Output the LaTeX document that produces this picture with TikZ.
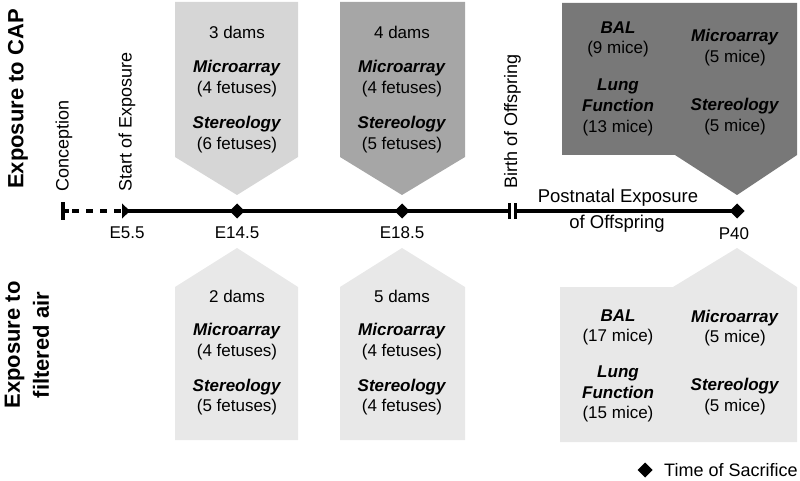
\documentclass[tikz,border=0pt]{standalone}
\usepackage{fontspec}
\setmainfont{Liberation Sans}
\definecolor{gA}{gray}{0.84}
\definecolor{gB}{gray}{0.65}
\definecolor{gC}{gray}{0.47}
\definecolor{gD}{gray}{0.91}
\begin{document}
\begin{tikzpicture}[x=1pt,y=-1pt,
  txt/.style={inner sep=0pt,align=center,font=\fontsize{17}{20.8}\selectfont},
  vlab/.style={inner sep=0pt,anchor=west,rotate=90,font=\fontsize{18}{21}\selectfont},
  biglab/.style={inner sep=0pt,align=center,rotate=90,font=\fontsize{22}{29}\selectfont\bfseries},
  tl/.style={line width=3.4pt,black},
  sac/.style={fill=black}
]
\useasboundingbox (0,0) rectangle (800,481);
% ---- boxes ----
\fill[gA] (175,2) -- (298,2) -- (298,157) -- (237,195) -- (175,157) -- cycle;
\fill[gB] (340,2) -- (465,2) -- (465,157) -- (402,195) -- (340,157) -- cycle;
\fill[gC] (562,3) -- (797,3) -- (797,155) -- (737,195) -- (675,155) -- (562,155) -- cycle;
\fill[gD] (175,440) -- (175,287) -- (237,248) -- (298,287) -- (298,440) -- cycle;
\fill[gD] (340,440) -- (340,287) -- (402,248) -- (465,287) -- (465,440) -- cycle;
\fill[gD] (560,442) -- (560,287) -- (673,287) -- (737,248) -- (797,287) -- (797,442) -- cycle;
% ---- box texts ----
\node[txt] (d1) at (237,32) {3 dams};
\node[txt] (m1) at (237,78.5) {\textbf{\textit{Microarray}}\\(4 fetuses)};
\node[txt] (s1) at (237,134.5) {\textbf{\textit{Stereology}}\\(6 fetuses)};
\node[txt] (d2) at (402,32) {4 dams};
\node[txt] (m2) at (402,78.5) {\textbf{\textit{Microarray}}\\(4 fetuses)};
\node[txt] (s2) at (402,134.5) {\textbf{\textit{Stereology}}\\(5 fetuses)};
\node[txt] (b3) at (618,39.5) {\textbf{\textit{BAL}}\\(9 mice)};
\node[txt] (l3) at (618,107.5) {\textbf{\textit{Lung}}\\\textbf{\textit{Function}}\\(13 mice)};
\node[txt] (m3) at (735,48) {\textbf{\textit{Microarray}}\\(5 mice)};
\node[txt] (s3) at (735,117) {\textbf{\textit{Stereology}}\\(5 mice)};
\node[txt] (d4) at (237,296) {2 dams};
\node[txt] (m4) at (237,341.5) {\textbf{\textit{Microarray}}\\(4 fetuses)};
\node[txt] (s4) at (237,397) {\textbf{\textit{Stereology}}\\(5 fetuses)};
\node[txt] (d5) at (402,296) {5 dams};
\node[txt] (m5) at (402,341.5) {\textbf{\textit{Microarray}}\\(4 fetuses)};
\node[txt] (s5) at (402,397) {\textbf{\textit{Stereology}}\\(4 fetuses)};
\node[txt] (b6) at (618,327.5) {\textbf{\textit{BAL}}\\(17 mice)};
\node[txt] (l6) at (618,394) {\textbf{\textit{Lung}}\\\textbf{\textit{Function}}\\(15 mice)};
\node[txt] (m6) at (735,328) {\textbf{\textit{Microarray}}\\(5 mice)};
\node[txt] (s6) at (735,396.5) {\textbf{\textit{Stereology}}\\(5 mice)};
% ---- side labels ----
\node[biglab] (cap) at (18,99) {Exposure to CAP};
\node[biglab] (air) at (27,345) {Exposure to\\filtered air};
\node[vlab] (conl) at (64,192) {Conception};
\node[vlab] (stl) at (127,192) {Start of Exposure};
\node[vlab] (bil) at (512.5,189) {Birth of Offspring};
% ---- timeline ----
\coordinate (conc) at (63,211);
\coordinate (start) at (127,211);
\coordinate (e14) at (237,211);
\coordinate (e18) at (402,211);
\coordinate (birthL) at (508,211);
\coordinate (birthR) at (517,211);
\coordinate (p40) at (737,211);
\draw[line width=3.2pt,dash pattern=on 7pt off 7pt] ([xshift=9pt]conc) -- (start);
\draw[line width=3.2pt] (conc) -- ([xshift=6pt]conc);
\draw[line width=3.4pt] ([yshift=-8.5pt]conc) -- ([yshift=8.5pt]conc);
\draw[tl] (start) -- (birthL);
\draw[tl] (birthR) -- (p40);
\draw[line width=3pt] ([xshift=1.5pt,yshift=-8pt]birthL) -- ([xshift=1.5pt,yshift=8pt]birthL);
\draw[line width=3pt] ([xshift=-1.5pt,yshift=-8pt]birthR) -- ([xshift=-1.5pt,yshift=8pt]birthR);
\fill ([xshift=-5pt,yshift=-7.5pt]start) -- ([xshift=3pt]start) -- ([xshift=-5pt,yshift=7.5pt]start) -- cycle;
\foreach \p in {e14,e18,p40}{
  \fill[sac] ([xshift=-7.5pt]\p) -- ([yshift=-7.5pt]\p) -- ([xshift=7.5pt]\p) -- ([yshift=7.5pt]\p) -- cycle;
}
\node[txt] (le5) at (127,233) {E5.5};
\node[txt] (le14) at (237,233) {E14.5};
\node[txt] (le18) at (402,233) {E18.5};
\node[txt] (lp40) at (734,234) {P40};
\node[txt,font=\fontsize{18.5}{22}\selectfont] (post) at (618,198) {Postnatal Exposure};
\node[txt,font=\fontsize{18.5}{22}\selectfont] (offs) at (617,224) {of Offspring};
% ---- legend ----
\coordinate (legd) at (645,470);
\fill[sac] ([xshift=-7.5pt]legd) -- ([yshift=-7.5pt]legd) -- ([xshift=7.5pt]legd) -- ([yshift=7.5pt]legd) -- cycle;
\node[txt,anchor=west,font=\fontsize{18}{21}\selectfont] (legt) at (664,470) {Time of Sacrifice};
\end{tikzpicture}
\end{document}
